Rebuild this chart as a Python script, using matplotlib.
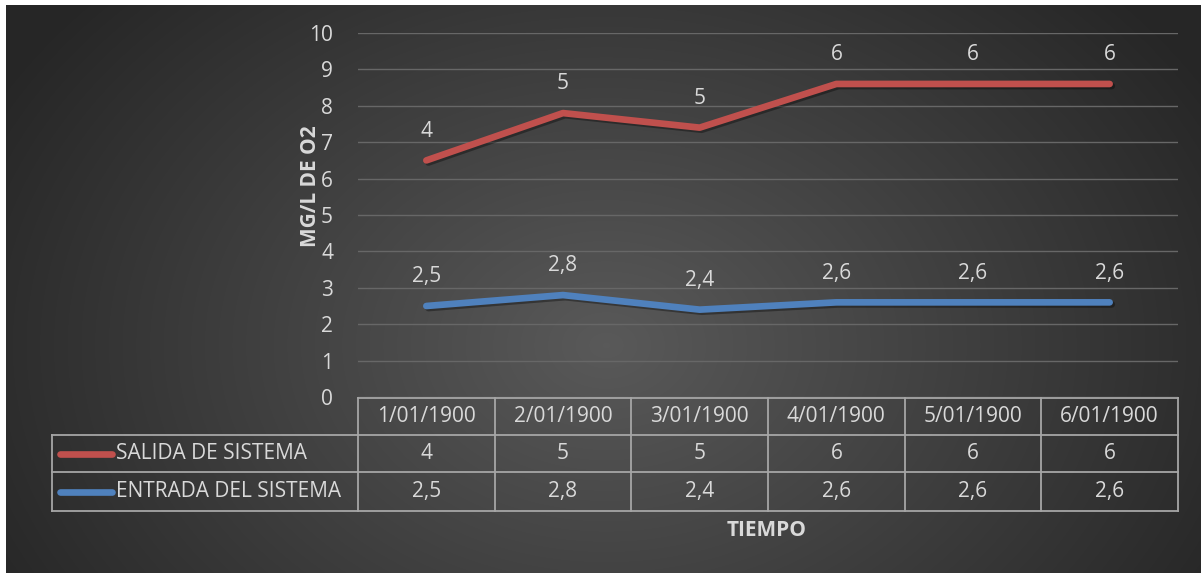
import numpy as np
import matplotlib.pyplot as plt
import matplotlib.patheffects as pe

plt.rcParams['font.family'] = ['Open Sans', 'DejaVu Sans']

fechas = ['1/01/1900', '2/01/1900', '3/01/1900', '4/01/1900', '5/01/1900', '6/01/1900']
salida = [4, 5, 5, 6, 6, 6]
entrada = [2.5, 2.8, 2.4, 2.6, 2.6, 2.6]
salida_lbl = ['4', '5', '5', '6', '6', '6']
entrada_lbl = ['2,5', '2,8', '2,4', '2,6', '2,6', '2,6']

rojo = '#c0504d'
azul = '#4f81bd'
txt = '#d9d9d9'
borde = '#a6a6a6'
fs = 15

W, H = 1201, 573
fig = plt.figure(figsize=(W / 100, H / 100), dpi=100, facecolor='white')

# fondo con degradado radial
bg = fig.add_axes([6 / W, 0, 1 - 6 / W, 1 - 5 / H])
yy, xx = np.mgrid[0:568, 0:1195]
r = np.sqrt(((xx - 600) / 700) ** 2 + ((yy - 340) / 520) ** 2)
v = 0.35 - 0.20 * np.clip(r, 0, 1)
bg.imshow(np.dstack([v, v, v]), aspect='auto', interpolation='bilinear')
bg.axis('off')

# area de trazado
x0, x1 = 358, 1178
ytop, ybot = 33, 397
ax = fig.add_axes([x0 / W, 1 - ybot / H, (x1 - x0) / W, (ybot - ytop) / H])
ax.set_facecolor('none')
xs = np.arange(len(fechas))
tot = np.array(entrada) + np.array(salida)
sombra = [pe.SimpleLineShadow(offset=(1.5, -1.5), alpha=0.35, shadow_color='black'), pe.Normal()]
ax.plot(xs, entrada, color=azul, lw=4.8, solid_capstyle='round', solid_joinstyle='round',
        path_effects=sombra, zorder=3)
ax.plot(xs, tot, color=rojo, lw=4.8, solid_capstyle='round', solid_joinstyle='round',
        path_effects=sombra, zorder=3)
for i in xs:
    ax.annotate(entrada_lbl[i], (i, entrada[i]), xytext=(0, 21), textcoords='offset points',
                ha='center', va='center', color=txt, fontsize=fs)
    ax.annotate(salida_lbl[i], (i, tot[i]), xytext=(0, 21), textcoords='offset points',
                ha='center', va='center', color=txt, fontsize=fs)
ax.set_xlim(-0.5, len(fechas) - 0.5)
ax.set_ylim(0, 10)
ax.set_yticks(range(0, 11))
ax.set_xticks([])
ax.tick_params(axis='y', length=0, pad=18, labelcolor=txt, labelsize=fs)
ax.grid(axis='y', color='#676767', lw=1)
for s in ax.spines.values():
    s.set_visible(False)

# tabla de datos
tb = fig.add_axes([0, 0, 1, 1])
tb.set_xlim(0, W)
tb.set_ylim(H, 0)
tb.axis('off')
cols = np.linspace(x0, x1, len(fechas) + 1)
rows = [398, 435, 472, 511]
lx = 52
lk = dict(color=borde, lw=1.3)
tb.plot([x0, x1], [rows[0], rows[0]], **lk)
for yv in rows[1:]:
    tb.plot([lx, x1], [yv, yv], **lk)
for xv in cols:
    tb.plot([xv, xv], [rows[0], rows[3]], **lk)
tb.plot([lx, lx], [rows[1], rows[3]], **lk)
for j, f in enumerate(fechas):
    cx = (cols[j] + cols[j + 1]) / 2
    tb.text(cx, (rows[0] + rows[1]) / 2, f, ha='center', va='center', color=txt, fontsize=fs)
    tb.text(cx, (rows[1] + rows[2]) / 2, salida_lbl[j], ha='center', va='center', color=txt, fontsize=fs)
    tb.text(cx, (rows[2] + rows[3]) / 2, entrada_lbl[j], ha='center', va='center', color=txt, fontsize=fs)
for k, (nom, c) in enumerate([('SALIDA DE SISTEMA', rojo), ('ENTRADA DEL SISTEMA', azul)]):
    yc = (rows[k + 1] + rows[k + 2]) / 2
    tb.plot([60, 112], [yc, yc], color=c, lw=4.8, solid_capstyle='round')
    tb.text(116, yc, nom, ha='left', va='center', color=txt, fontsize=fs)
tb.text(767, 530, 'TIEMPO', ha='center', va='center', color=txt, fontsize=fs, fontweight='bold')
tb.text(310, 186, 'MG/L DE O2', rotation=90, ha='center', va='center', color=txt,
        fontsize=fs, fontweight='bold')

fig.savefig('out.png', dpi=100, facecolor='white')
